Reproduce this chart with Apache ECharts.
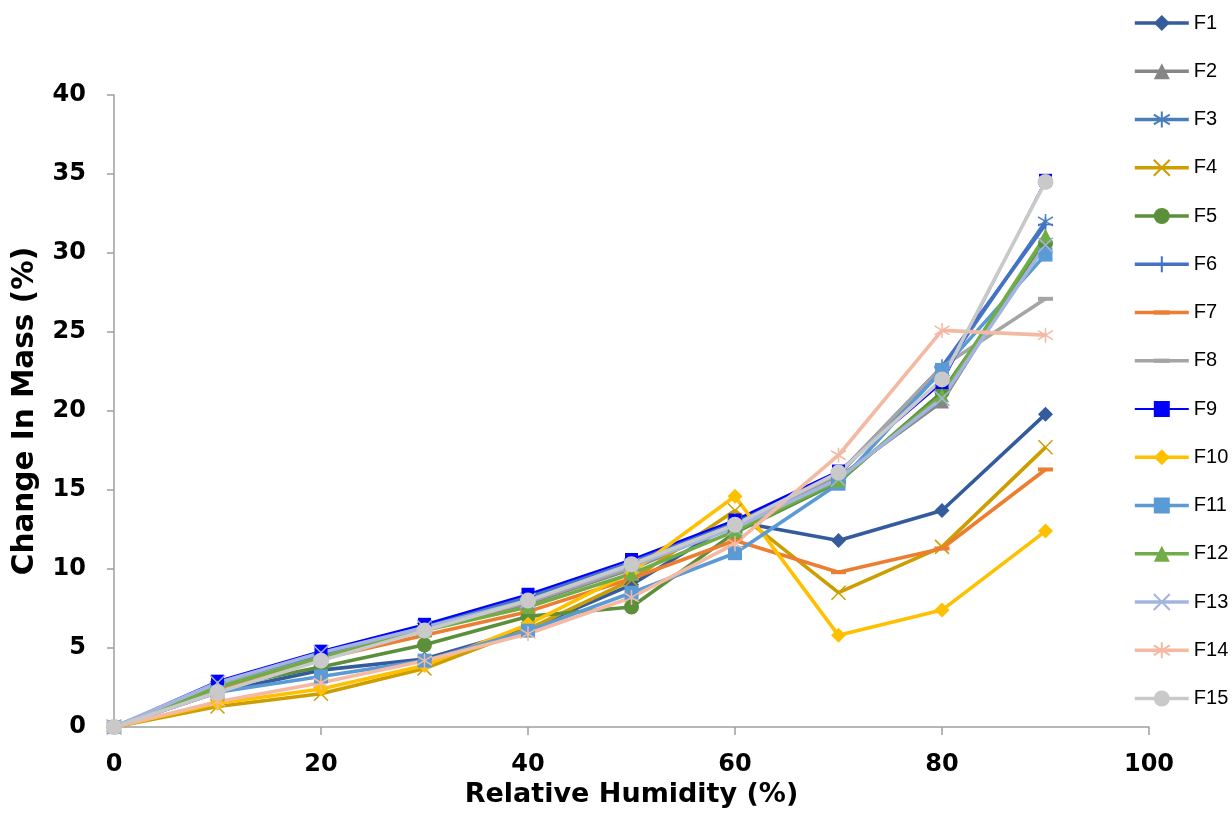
<!DOCTYPE html>
<html>
<head>
<meta charset="utf-8">
<script src="https://cdn.jsdelivr.net/npm/echarts@6/dist/echarts.min.js"></script>
<style>
  html, body { margin: 0; padding: 0; background: #ffffff; }
  #chart { width: 1232px; height: 826px; }
</style>
</head>
<body>
<div id="chart"></div>
<script>
// Relative humidity steps (%)
const humidity = [0, 10, 20, 30, 40, 50, 60, 70, 80, 90];

// Change in mass (%) for each formulation
const F1  = [0, 2.2, 3.6, 4.3, 6.2, 9.0, 13.0, 11.8, 13.7, 19.8];
const F2  = [0, 2.5, 4.5, 6.2, 7.8, 10.0, 12.8, 15.8, 20.6, 31.0];
const F3  = [0, 2.6, 4.4, 6.3, 8.2, 10.3, 12.9, 16.0, 22.5, 32.0];
const F4  = [0, 1.3, 2.1, 3.7, 6.2, 9.3, 13.7, 8.5, 11.4, 17.7];
const F5  = [0, 2.5, 3.8, 5.2, 7.0, 7.6, 12.3, 15.5, 21.2, 30.6];
const F6  = [0, 2.6, 4.6, 6.4, 8.3, 10.4, 13.0, 16.0, 22.8, 31.8];
const F7  = [0, 2.3, 4.3, 5.8, 7.3, 9.4, 11.8, 9.8, 11.3, 16.3];
const F8  = [0, 2.6, 4.4, 6.2, 7.9, 10.1, 12.8, 16.0, 22.8, 27.1];
const F9  = [0, 2.9, 4.8, 6.5, 8.4, 10.6, 13.1, 16.2, 21.8, 34.6];
const F10 = [0, 1.5, 2.4, 3.9, 6.5, 9.8, 14.6, 5.8, 7.4, 12.4];
const F11 = [0, 2.2, 3.2, 4.2, 6.1, 8.5, 11.0, 15.4, 22.6, 29.9];
const F12 = [0, 2.5, 4.4, 6.1, 7.6, 9.7, 12.4, 15.6, 21.0, 31.1];
const F13 = [0, 2.8, 4.7, 6.3, 8.0, 10.2, 12.6, 15.7, 20.8, 30.5];
const F14 = [0, 1.6, 2.8, 4.2, 5.9, 8.2, 11.6, 17.2, 25.1, 24.8];
const F15 = [0, 2.2, 4.2, 6.1, 8.0, 10.3, 12.8, 16.1, 22.0, 34.5];

const seriesNames = ['F1','F2','F3','F4','F5','F6','F7','F8','F9','F10','F11','F12','F13','F14','F15'];
const seriesValues = [F1, F2, F3, F4, F5, F6, F7, F8, F9, F10, F11, F12, F13, F14, F15];

// Marker glyphs drawn as paths
const X_MARK = 'path://M0,0L10,10M10,0L0,10';
const STAR_MARK = 'path://M5,0L5,10M0,2L10,8M0,8L10,2';
const PLUS_MARK = 'path://M5,0L5,10M0,5L10,5';
// short bar centred in a square box, so it stays a dash at any square size
const DASH_MARK = 'path://M0,0M15,15M0,5.5H15V9.5H0Z';

// Per-series look: color, marker, marker size, stroked marker?, line width
const looks = [
  { color: '#345C9C', symbol: 'diamond',  size: 15, stroke: false, width: 3.6 },
  { color: '#868686', symbol: 'triangle', size: 14, stroke: false, width: 3.6 },
  { color: '#4A7EBB', symbol: STAR_MARK,  size: 15, stroke: true,  width: 3.6 },
  { color: '#CC9E00', symbol: X_MARK,     size: 14, stroke: true,  width: 3.6 },
  { color: '#5B8F3A', symbol: 'circle',   size: 15, stroke: false, width: 3.6 },
  { color: '#4472C4', symbol: PLUS_MARK,  size: 15, stroke: true,  width: 3.6 },
  { color: '#ED7D31', symbol: DASH_MARK,  size: 15, stroke: false, width: 3.6 },
  { color: '#A5A5A5', symbol: DASH_MARK,  size: 15, stroke: false, width: 3.6 },
  { color: '#0000FF', symbol: 'rect',     size: 13, stroke: false, width: 2.2 },
  { color: '#FFC000', symbol: 'diamond',  size: 15, stroke: false, width: 3.6 },
  { color: '#5B9BD5', symbol: 'rect',     size: 14, stroke: false, width: 3.6 },
  { color: '#70AD47', symbol: 'triangle', size: 14, stroke: false, width: 3.6 },
  { color: '#A3B4DE', symbol: X_MARK,     size: 15, stroke: true,  width: 3.6 },
  { color: '#F4B9A3', symbol: STAR_MARK,  size: 15, stroke: true,  width: 3.6 },
  { color: '#C9C9C9', symbol: 'circle',   size: 16, stroke: false, width: 3.6 }
];

const AXIS_GRAY = '#9E9E9E';
const AXIS_FONT = 'DejaVu Sans';

const series = seriesNames.map((name, i) => {
  const look = looks[i];
  return {
    name: name,
    type: 'line',
    data: humidity.map((h, k) => [h, seriesValues[i][k]]),
    symbol: look.symbol,
    symbolSize: look.size,
    showSymbol: true,
    lineStyle: { color: look.color, width: look.width },
    itemStyle: look.stroke
      ? { color: look.color, borderColor: look.color, borderWidth: 1.5 }
      : { color: look.color, borderWidth: 0 },
    emphasis: { disabled: true },
    animation: false
  };
});

const chart = echarts.init(document.getElementById('chart'), null, { renderer: 'canvas' });
chart.setOption({
  backgroundColor: '#ffffff',
  animation: false,
  grid: { left: 114, right: 83, top: 95, bottom: 99, containLabel: false },
  legend: {
    orient: 'vertical',
    left: 1133,
    top: 13,
    padding: 0,
    itemWidth: 54,
    itemHeight: 20,
    itemGap: 28.25,
    lineStyle: { width: 'inherit' },
    textStyle: { fontFamily: 'Liberation Sans', fontSize: 20, color: '#000000', lineHeight: 20 },
    data: seriesNames
  },
  xAxis: {
    type: 'value',
    min: 0,
    max: 100,
    interval: 20,
    name: 'Relative Humidity (%)',
    nameLocation: 'middle',
    nameGap: 47,
    nameTextStyle: { fontFamily: AXIS_FONT, fontWeight: 'bold', fontSize: 27, color: '#000000' },
    axisLine: { show: true, onZero: false, lineStyle: { color: AXIS_GRAY, width: 1.5 } },
    axisTick: { show: true, inside: false, length: 8, lineStyle: { color: AXIS_GRAY, width: 1.5 } },
    axisLabel: { margin: 26, fontFamily: AXIS_FONT, fontWeight: 'bold', fontSize: 24, color: '#000000' },
    splitLine: { show: false }
  },
  yAxis: {
    type: 'value',
    min: 0,
    max: 40,
    interval: 5,
    name: 'Change In Mass (%)',
    nameLocation: 'middle',
    nameGap: 74,
    nameTextStyle: { fontFamily: AXIS_FONT, fontWeight: 'bold', fontSize: 29.5, color: '#000000' },
    axisLine: { show: true, onZero: false, lineStyle: { color: AXIS_GRAY, width: 1.5 } },
    axisTick: { show: true, inside: false, length: 7, lineStyle: { color: AXIS_GRAY, width: 1.5 } },
    axisLabel: { margin: 28, fontFamily: AXIS_FONT, fontWeight: 'bold', fontSize: 24, color: '#000000' },
    splitLine: { show: false }
  },
  series: series
});
</script>
</body>
</html>
